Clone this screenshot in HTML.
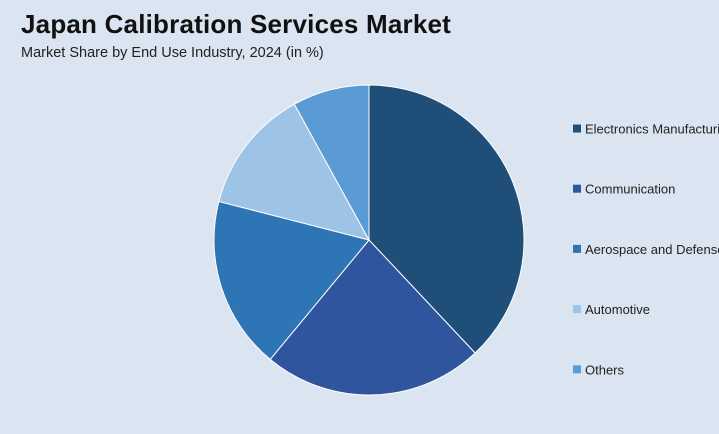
<!DOCTYPE html>
<html><head><meta charset="utf-8"><style>
html,body{margin:0;padding:0;background:#dbe4f1;}
body{width:719px;height:434px;overflow:hidden;position:relative;font-family:"Liberation Sans",sans-serif;}
#title{position:absolute;left:21px;top:9px;font-size:26px;font-weight:bold;color:#111;letter-spacing:0.2px;}
#subtitle{position:absolute;left:21px;top:45px;font-size:14.5px;color:#222;}
svg{position:absolute;left:0;top:0;}
</style></head><body>
<div id="title">Japan Calibration Services Market</div>
<div id="subtitle">Market Share by End Use Industry, 2024 (in %)</div>
<svg id="chart" width="719" height="434"></svg>
<script>
const categories = ["Electronics Manufacturing","Communication","Aerospace and Defense","Automotive","Others"];
const values = [38,23,18,13,8];
const colors = ["#1f4e79","#2f559e","#2e75b6","#9dc3e6","#5b9bd5"];
const svg = document.getElementById('chart');
const NS = "http://www.w3.org/2000/svg";
const cx = 369, cy = 240, r = 155;
const total = values.reduce((a,b)=>a+b,0);
let acc = 0;
function pt(frac){const a = frac*2*Math.PI; return [cx + r*Math.sin(a), cy - r*Math.cos(a)];}
values.forEach((v,i)=>{
  const s = acc/total, e = (acc+v)/total; acc += v;
  const [x1,y1] = pt(s), [x2,y2] = pt(e);
  const large = (e-s) > 0.5 ? 1 : 0;
  const p = document.createElementNS(NS,'path');
  p.setAttribute('d',`M${cx},${cy} L${x1},${y1} A${r},${r} 0 ${large} 1 ${x2},${y2} Z`);
  p.setAttribute('fill',colors[i]);
  p.setAttribute('stroke','#ffffff');
  p.setAttribute('stroke-width','1');
  
  
  svg.appendChild(p);
});
categories.forEach((c,i)=>{
  const y = 129 + i*60.2;
  const g = document.createElementNS(NS,'g');
  
  
  const rect = document.createElementNS(NS,'rect');
  rect.setAttribute('x',573); rect.setAttribute('y',y-4.5);
  rect.setAttribute('width',8); rect.setAttribute('height',8);
  rect.setAttribute('fill',colors[i]);
  
  
  const t = document.createElementNS(NS,'text');
  t.setAttribute('x',585); t.setAttribute('y',y+4.5);
  t.setAttribute('font-size','13');
  t.setAttribute('fill','#222');
  t.setAttribute('font-family','Liberation Sans, sans-serif');
  
  
  t.textContent = c;
  g.appendChild(rect); g.appendChild(t);
  svg.appendChild(g);
});
</script>
</body></html>
